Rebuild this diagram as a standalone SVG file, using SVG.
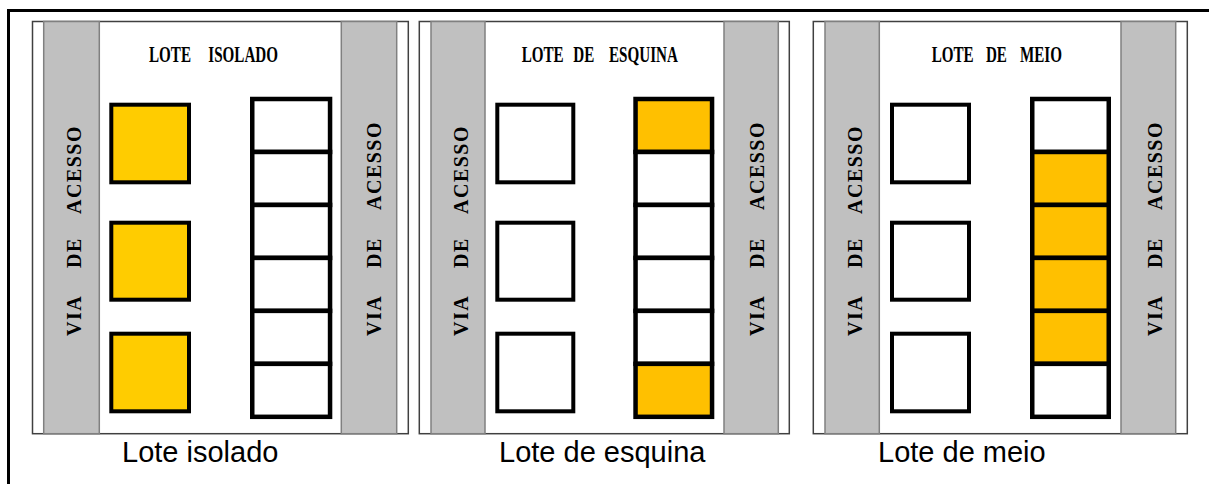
<svg xmlns="http://www.w3.org/2000/svg" width="1209" height="484" viewBox="0 0 1209 484">
<style>
.panel{fill:#fff;stroke:#404040;stroke-width:1.5}
.road{fill:#c0c0c0;stroke:#808080;stroke-width:1.5}
.lot{fill:#fff;stroke:#000;stroke-width:4}
.cell{fill:#fff;stroke:#000;stroke-width:4.5}
.y1{fill:#ffcc00}
.y2{fill:#ffc000}
.title{font-family:"Liberation Serif","Times New Roman",serif;font-weight:bold;font-size:24px;fill:#000}
.via{font-family:"Liberation Serif","Times New Roman",serif;font-weight:bold;font-size:20px;letter-spacing:1.5px;fill:#000}
.cap{font-family:"Liberation Sans",Arial,sans-serif;font-size:29px;fill:#000}
</style>
<rect width="1209" height="484" fill="#fff"/>
<path id="frame" d="M8.5 484 V10.5 H1209" fill="none" stroke="#000" stroke-width="3"/>

<g id="panel-isolado">
<rect class="panel" x="32.5" y="21.5" width="375.8" height="412.2"/>
<rect class="road" x="43.7" y="21.5" width="55.6" height="412.2"/>
<rect class="road" x="341.3" y="21.5" width="55.4" height="412.2"/>
<text class="title" transform="translate(0,61.7) scale(0.63,1)"><tspan x="236.5">LOTE</tspan><tspan x="330.6">ISOLADO</tspan></text>
<text class="via" transform="translate(80.5,0) rotate(-90)"><tspan x="-336">VIA</tspan><tspan x="-268">DE</tspan><tspan x="-214">ACESSO</tspan></text>
<text class="via" transform="translate(381,0) rotate(-90)"><tspan x="-336">VIA</tspan><tspan x="-268">DE</tspan><tspan x="-210">ACESSO</tspan></text>
<rect class="lot y1" x="111.3" y="104.7" width="77.7" height="77.6"/>
<rect class="lot y1" x="111.3" y="222.7" width="77.7" height="77"/>
<rect class="lot y1" x="111.3" y="333.7" width="77.7" height="77.6"/>
<rect class="cell" x="252.25" y="99" width="77.8" height="52.97"/>
<rect class="cell" x="252.25" y="151.97" width="77.8" height="52.97"/>
<rect class="cell" x="252.25" y="204.94" width="77.8" height="52.97"/>
<rect class="cell" x="252.25" y="257.91" width="77.8" height="52.97"/>
<rect class="cell" x="252.25" y="310.88" width="77.8" height="52.97"/>
<rect class="cell" x="252.25" y="363.85" width="77.8" height="52.97"/>
<text class="cap" x="122" y="462.3">Lote isolado</text>
</g>

<g id="panel-esquina">
<rect class="panel" x="419.3" y="21.5" width="370" height="412.2"/>
<rect class="road" x="431" y="21.5" width="54" height="412.2"/>
<rect class="road" x="724" y="21.5" width="54.3" height="412.2"/>
<text class="title" transform="translate(0,61.7) scale(0.63,1)"><tspan x="828">LOTE</tspan><tspan x="910">DE</tspan><tspan x="966.7">ESQUINA</tspan></text>
<text class="via" transform="translate(467.5,0) rotate(-90)"><tspan x="-336">VIA</tspan><tspan x="-268">DE</tspan><tspan x="-214">ACESSO</tspan></text>
<text class="via" transform="translate(764,0) rotate(-90)"><tspan x="-336">VIA</tspan><tspan x="-268">DE</tspan><tspan x="-210">ACESSO</tspan></text>
<rect class="lot" x="497.3" y="104.7" width="76" height="77.6"/>
<rect class="lot" x="497.3" y="222.7" width="76" height="77"/>
<rect class="lot" x="497.3" y="333.7" width="76" height="77.6"/>
<rect class="cell y2" x="635.55" y="99" width="76.5" height="52.97"/>
<rect class="cell" x="635.55" y="151.97" width="76.5" height="52.97"/>
<rect class="cell" x="635.55" y="204.94" width="76.5" height="52.97"/>
<rect class="cell" x="635.55" y="257.91" width="76.5" height="52.97"/>
<rect class="cell" x="635.55" y="310.88" width="76.5" height="52.97"/>
<rect class="cell y2" x="635.55" y="363.85" width="76.5" height="52.97"/>
<text class="cap" x="499" y="462.3">Lote de esquina</text>
</g>

<g id="panel-meio">
<rect class="panel" x="813.3" y="21.5" width="374" height="412.2"/>
<rect class="road" x="825" y="21.5" width="54.3" height="412.2"/>
<rect class="road" x="1121" y="21.5" width="54.7" height="412.2"/>
<text class="title" transform="translate(0,61.7) scale(0.63,1)"><tspan x="1478.9">LOTE</tspan><tspan x="1565">DE</tspan><tspan x="1619">MEIO</tspan></text>
<text class="via" transform="translate(861.5,0) rotate(-90)"><tspan x="-336">VIA</tspan><tspan x="-268">DE</tspan><tspan x="-214">ACESSO</tspan></text>
<text class="via" transform="translate(1162,0) rotate(-90)"><tspan x="-336">VIA</tspan><tspan x="-268">DE</tspan><tspan x="-210">ACESSO</tspan></text>
<rect class="lot" x="892" y="104.7" width="77" height="77.6"/>
<rect class="lot" x="892" y="222.7" width="77" height="77"/>
<rect class="lot" x="892" y="333.7" width="77" height="77.6"/>
<rect class="cell" x="1032.25" y="99" width="76.5" height="52.97"/>
<rect class="cell y2" x="1032.25" y="151.97" width="76.5" height="52.97"/>
<rect class="cell y2" x="1032.25" y="204.94" width="76.5" height="52.97"/>
<rect class="cell y2" x="1032.25" y="257.91" width="76.5" height="52.97"/>
<rect class="cell y2" x="1032.25" y="310.88" width="76.5" height="52.97"/>
<rect class="cell" x="1032.25" y="363.85" width="76.5" height="52.97"/>
<text class="cap" x="878" y="462.3">Lote de meio</text>
</g>
</svg>
